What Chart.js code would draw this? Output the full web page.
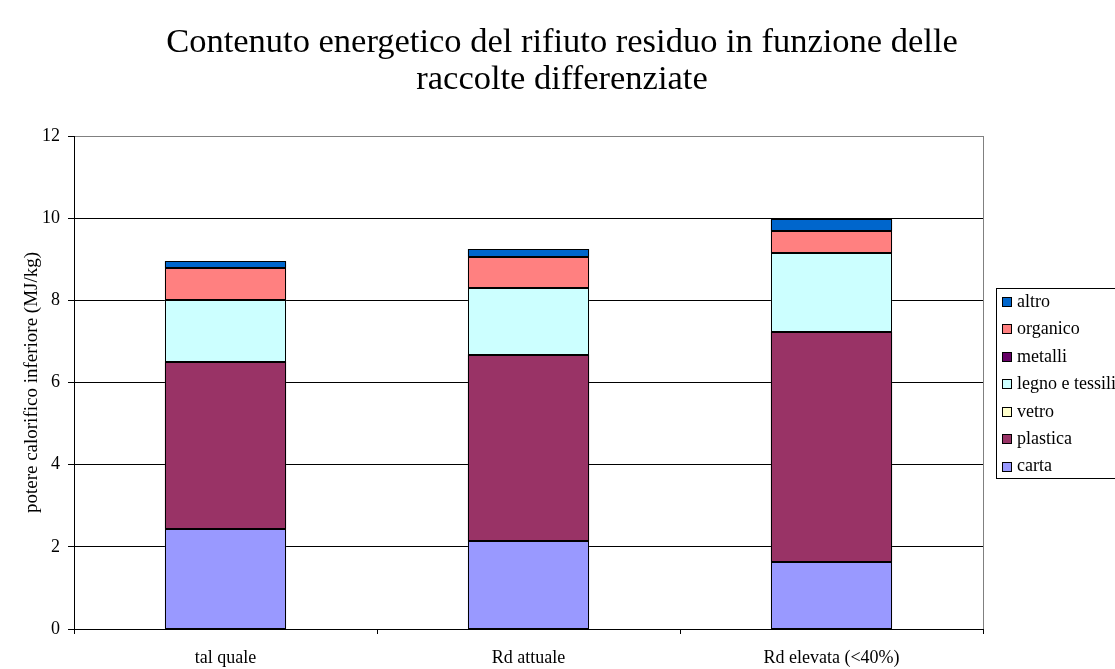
<!DOCTYPE html>
<html>
<head>
<meta charset="utf-8">
<script src="https://cdn.jsdelivr.net/npm/chart.js@4/dist/chart.umd.min.js"></script>
<style>
  html, body { margin: 0; padding: 0; background: #ffffff; }
  #wrap { width: 1115px; height: 669px; }
</style>
</head>
<body>
<div id="wrap"><canvas id="c" width="1115" height="669"></canvas></div>
<script>
// ---- data ----
const categories = ["tal quale", "Rd attuale", "Rd elevata (<40%)"];
const carta    = [2.44, 2.15, 1.64];
const plastica = [4.07, 4.53, 5.59];
const vetro    = [0, 0, 0];
const legno    = [1.50, 1.63, 1.92];
const metalli  = [0, 0, 0];
const organico = [0.78, 0.75, 0.54];
const altro    = [0.16, 0.19, 0.28];
const seriesNames = ["carta", "plastica", "vetro", "legno e tessili", "metalli", "organico", "altro"];
const seriesColors = ["#9999FF", "#993366", "#FFFFCC", "#CCFFFF", "#660066", "#FF8080", "#0066CC"];
const yTicks = [0, 2, 4, 6, 8, 10, 12];
const titleLines = ["Contenuto energetico del rifiuto residuo in funzione delle", "raccolte differenziate"];
const yTitle = "potere calorifico inferiore (MJ/kg)";

const FONT = "'Liberation Serif', 'Times New Roman', serif";
const seriesValues = [carta, plastica, vetro, legno, metalli, organico, altro];

const datasets = seriesNames.map((n, i) => ({
  label: n,
  data: seriesValues[i],
  backgroundColor: seriesColors[i],
  borderColor: "#000000",
  borderWidth: 0,
  barPercentage: 0.4,
  categoryPercentage: 1.0
}));

// centred two-line title across the whole canvas
const canvasTitle = {
  id: "canvasTitle",
  afterDraw(chart) {
    const ctx = chart.ctx;
    ctx.save();
    ctx.font = "34.5px " + FONT;
    ctx.fillStyle = "#000000";
    ctx.textAlign = "center";
    ctx.textBaseline = "middle";
    const cx = 562;
    titleLines.forEach((t, i) => ctx.fillText(t, cx, 43 + i * 37));
    ctx.restore();
  }
};

// crisp black outlines around every bar segment, using the library's bar geometry
const barOutlines = {
  id: "barOutlines",
  afterDatasetsDraw(chart) {
    const ctx = chart.ctx;
    ctx.save();
    ctx.strokeStyle = "#000000";
    ctx.lineWidth = 1;
    chart.data.datasets.forEach((ds, i) => {
      const meta = chart.getDatasetMeta(i);
      meta.data.forEach((bar) => {
        const p = bar.getProps(["x", "y", "base", "width"], true);
        const top = Math.min(p.y, p.base), bot = Math.max(p.y, p.base);
        if (bot - top < 0.5) return;
        const l = Math.round(p.x - p.width / 2) + 0.5;
        const r = Math.round(p.x + p.width / 2) - 0.5;
        const t = Math.round(top) + 0.5;
        const b = Math.round(bot) - 0.5;
        ctx.strokeRect(l, t, r - l, b - t);
      });
    });
    ctx.restore();
  }
};

// legend drawn as a boxed list (reversed order), clipped at canvas edge like the reference
const boxLegend = {
  id: "boxLegend",
  afterDraw(chart) {
    const ctx = chart.ctx;
    const x0 = 996, y0 = 288, y1 = 478;
    ctx.save();
    ctx.fillStyle = "#ffffff";
    ctx.fillRect(x0, y0, 200, y1 - y0);
    ctx.strokeStyle = "#000000";
    ctx.lineWidth = 1;
    ctx.strokeRect(x0 + 0.5, y0 + 0.5, 200, y1 - y0);
    ctx.font = "18px " + FONT;
    ctx.textBaseline = "middle";
    ctx.textAlign = "left";
    const n = chart.data.datasets.length;
    for (let k = 0; k < n; k++) {
      const ds = chart.data.datasets[n - 1 - k];
      const cy = 302 + k * 27.45;
      ctx.fillStyle = ds.backgroundColor;
      ctx.fillRect(1002, Math.round(cy) - 5, 10, 10);
      ctx.strokeStyle = "#000000";
      ctx.strokeRect(1002.5, Math.round(cy) - 4.5, 9, 9);
      ctx.fillStyle = "#000000";
      ctx.fillText(ds.label, 1017, cy);
    }
    ctx.restore();
  }
};

const plotBorder = {
  id: "plotBorder",
  beforeDatasetsDraw(chart) {
    const a = chart.chartArea, ctx = chart.ctx;
    ctx.save();
    ctx.strokeStyle = "#808080";
    ctx.lineWidth = 1;
    ctx.beginPath();
    ctx.moveTo(Math.round(a.right) + 0.5, a.top);
    ctx.lineTo(Math.round(a.right) + 0.5, a.bottom);
    ctx.stroke();
    ctx.restore();
  }
};

new Chart(document.getElementById("c"), {
  type: "bar",
  data: { labels: categories, datasets: datasets },
  plugins: [plotBorder, barOutlines, boxLegend, canvasTitle],
  options: {
    responsive: false,
    animation: false,
    layout: { padding: { left: 0, right: 132, top: 136, bottom: 0 } },
    plugins: {
      legend: { display: false },
      tooltip: { enabled: false },
      title: { display: false }
    },
    scales: {
      x: {
        stacked: true,
        grid: { display: true, drawOnChartArea: false, drawTicks: true, tickLength: 5, color: "#000000", offset: true },
        border: { display: true, color: "#000000", width: 1 },
        ticks: { color: "#000000", font: { family: FONT, size: 18 }, padding: 13, maxRotation: 0 },
        afterFit(scale) { scale.height = 40; }
      },
      y: {
        stacked: true,
        min: 0,
        max: 12,
        afterBuildTicks(scale) { scale.ticks = yTicks.map(v => ({ value: v })); },
        grid: {
          color: (c) => (c.tick && c.tick.value === 12 ? "#808080" : "#000000"),
          tickColor: "#000000",
          tickLength: 6,
          drawTicks: true
        },
        border: { display: true, color: "#000000", width: 1 },
        ticks: { color: "#000000", font: { family: FONT, size: 18 }, padding: 8 },
        title: {
          display: true,
          text: yTitle,
          color: "#000000",
          font: { family: FONT, size: 19 },
          padding: { top: 21, bottom: 0 }
        },
        afterFit(scale) { scale.width = 74; }
      }
    }
  }
});
</script>
</body>
</html>
